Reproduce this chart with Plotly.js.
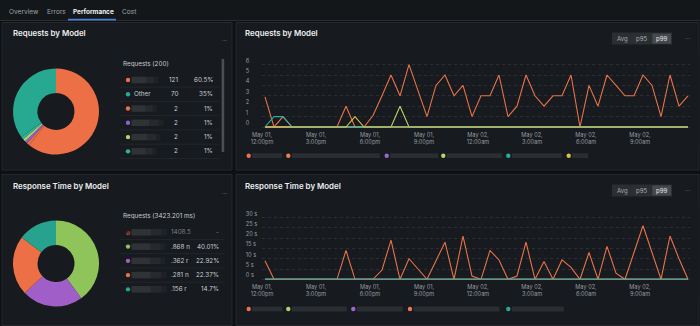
<!DOCTYPE html>
<html>
<head>
<meta charset="utf-8">
<script src="https://cdn.plot.ly/plotly-3.0.1.min.js"></script>
<style>
  html, body { margin: 0; padding: 0; background: #0e1013; }
  #chart { width: 700px; height: 326px; }
</style>
</head>
<body>
<div id="chart"></div>
<script>
// ---------------- DATA ----------------
const tabs = ['Overview', 'Errors', 'Performance', 'Cost'];
const activeTab = 'Performance';

const reqTitle = 'Requests by Model';
const reqTableHeader = 'Requests (200)';
const reqTotal = 200;
const reqModelNames = [null, 'Other', null, null, null, null];   // null = blurred name
const reqCounts = [121, 70, 2, 2, 2, 2];
const reqColors = ['#ec6f45', '#27a891', '#ec6f45', '#8f5fc8', '#b6d36b', '#2fb59f'];

const rtTitle = 'Response Time by Model';
const rtTableHeader = 'Requests (3423.201 ms)';
const rtExcludedShown = '1408.5';
const rtExcludedPct = '-';
const rtShown = ['.868 n', '.362 r', '.281 n', '.156 r'];
const rtPct = [40.01, 22.92, 22.37, 14.7];
const rtColors = ['#8fc45b', '#a05fc8', '#ec6f45', '#27a28e'];

const toggles = ['Avg', 'p95', 'p99'];
const activeToggle = 'p99';

const times = [
  '2024-05-01 12:10','2024-05-01 12:40','2024-05-01 13:10','2024-05-01 13:40','2024-05-01 14:10','2024-05-01 14:40',
  '2024-05-01 15:10','2024-05-01 15:40','2024-05-01 16:10','2024-05-01 16:40','2024-05-01 17:10','2024-05-01 17:40',
  '2024-05-01 18:10','2024-05-01 18:40','2024-05-01 19:10','2024-05-01 19:40','2024-05-01 20:10','2024-05-01 20:40',
  '2024-05-01 21:10','2024-05-01 21:40','2024-05-01 22:10','2024-05-01 22:40','2024-05-01 23:10','2024-05-01 23:40',
  '2024-05-02 00:10','2024-05-02 00:40','2024-05-02 01:10','2024-05-02 01:40','2024-05-02 02:10','2024-05-02 02:40',
  '2024-05-02 03:10','2024-05-02 03:40','2024-05-02 04:10','2024-05-02 04:40','2024-05-02 05:10','2024-05-02 05:40',
  '2024-05-02 06:10','2024-05-02 06:40','2024-05-02 07:10','2024-05-02 07:40','2024-05-02 08:10','2024-05-02 08:40',
  '2024-05-02 09:10','2024-05-02 09:40','2024-05-02 10:10','2024-05-02 10:40','2024-05-02 11:10','2024-05-02 11:40'
];
const xRange = ['2024-05-01 12:00', '2024-05-02 12:00'];
const xTickVals = ['2024-05-01 12:00','2024-05-01 15:00','2024-05-01 18:00','2024-05-01 21:00',
                   '2024-05-02 00:00','2024-05-02 03:00','2024-05-02 06:00','2024-05-02 09:00','2024-05-02 12:00'];
const xTickText = ['May 01,<br>12:00pm','May 01,<br>3:00pm','May 01,<br>6:00pm','May 01,<br>9:00pm',
                   'May 02,<br>12:00am','May 02,<br>3:00am','May 02,<br>6:00am','May 02,<br>9:00am','May 02,<br>12:00pm'];
const reqYTicks = [0, 1, 2, 3, 4, 5, 6];
const rtYTicks = [0, 5, 10, 15, 20, 25, 30];

// Requests by Model (p99) series
const reqS1 = [2.9,0,0,0,0,0,0,0,0,2,0,0,1.1,3,5,3,6,3.5,1,4,5,3,4,1,3,3,5,1,2,5,3,2,3,3,5,0,4,2,5,4,3,3,5,4,1,5,2,3];
const reqS2 = [0,0,1,0,0,0,0,0,0,0,0,0,0,0,0,0,0,0,0,0,0,0,0,0,0,0,0,0,0,0,0,0,0,0,0,0,0,0,0,0,0,0,0,0,0,0,0,0];
const reqS3 = [0,0,0,0,0,0,0,0,0,0,0,0,0,0,0,0,0,0,0,0,0,0,0,0,0,0,0,0,0,0,0,0,0,0,0,0,0,0,0,0,0,0,0,0,0,0,0,0];
const reqS4 = [0,0,0,0,0,0,0,0,0,0,0,0,0,0,0,2,0,0,0,0,0,0,0,0,0,0,0,0,0,0,0,0,0,0,0,0,0,0,0,0,0,0,0,0,0,0,0,0];
const reqS5 = [0,1,1,0,0,0,0,0,0,0,0,0,0,0,0,0,0,0,0,0,0,0,0,0,0,0,0,0,0,0,0,0,0,0,0,0,0,0,0,0,0,0,0,0,0,0,0,0];
const reqS6 = [0,0,0,0,0,0,0,0,0,0,1,0,0,0,0,0,0,0,0,0,0,0,0,0,0,0,0,0,0,0,0,0,0,0,0,0,0,0,0,0,0,0,0,0,0,0,0,0];
const reqSeries = [reqS1, reqS2, reqS3, reqS4, reqS5, reqS6];
const reqLineColors = ['#e8734a', '#ee7d52', '#9a66cf', '#b8d56e', '#2aae9c', '#d8c04a'];

// Response Time by Model (p99) series, seconds
const rtS1 = [9,0,0,0,0,0,0,0,0,14,0,0,0,4.5,19,0,10,5,0,9,18,0,21,1.6,0,14,9.4,0,1.6,18,0,8.6,0,9.4,5.8,0,13,0,16,3,0,13,26,13,0,21,10,0];
const rtS2 = [0,0,0,0,0,0,0,0,0,0,0,0,0,0,0,0,0,0,0,0,0,0,0,0,0,0,0,0,0,0,0,0,0,0,0,0,0,0,0,0,0,0,0,0,0,0,0,0];
const rtS3 = [0,0,0,0,0,0,0,0,0,0,0,0,0,0,0,0,0,0,0,0,0,0,0,0,0,0,0,0,0,0,0,0,0,0,0,0,0,0,0,0,0,0,0,0,0,0,0,0];
const rtS4 = [0,0,0,0,0,0,0,0,0,0,0,0,0,0,0,0,0,0,0,0,0,0,0,0,0,0,0,0,0,0,0,0,0,0,0,0,0,0,0,0,0,0,0,0,0,0,0,0];
const rtS5 = [0,0,0,0,0,0,0,0,0,0,0,0,0,0,0,0,0,0,0,0,0,0,0,0,0,0,0,0,0,0,0,0,0,0,0,0,0,0,0,0,0,0,0,0,0,0,0,0];
const rtSeries = [rtS1, rtS2, rtS3, rtS4, rtS5];
const rtLineColors = ['#e8734a', '#a9d36a', '#a066cc', '#ec7a50', '#2aa896'];

// ---------------- STYLE / LAYOUT HELPERS ----------------
const W = 700, H = 326;
const X = p => p / W;
const Y = p => 1 - p / H;
const FONT = 'Inter, "Noto Sans", "DejaVu Sans", sans-serif';
const PAGE_BG = '#0e1013';
const PANEL_BG = '#171a1e';
const PANEL_LINE = '#25292d';

const shapes = [];
const ann = [];

function rect(x0, y0, x1, y1, fill, line, layer) {
  shapes.push({type: 'rect', xref: 'paper', yref: 'paper', x0: X(x0), x1: X(x1), y0: Y(y1), y1: Y(y0),
    fillcolor: fill, line: line ? {color: line, width: 1} : {width: 0}, layer: layer || 'below'});
}
function circle(cx, cy, r, fill) {
  shapes.push({type: 'circle', xref: 'paper', yref: 'paper', x0: X(cx - r), x1: X(cx + r), y0: Y(cy + r), y1: Y(cy - r),
    fillcolor: fill, line: {width: 0}, layer: 'below'});
}
function hline(x0, x1, y, color, width) {
  shapes.push({type: 'line', xref: 'paper', yref: 'paper', x0: X(x0), x1: X(x1), y0: Y(y), y1: Y(y),
    line: {color: color, width: width || 1}, layer: 'below'});
}
function txt(x, y, text, o) {
  o = o || {};
  const xa = o.xanchor || 'left';
  const dx = xa === 'left' ? -1.2 : (xa === 'right' ? 1.2 : 0);
  ann.push({xref: 'paper', yref: 'paper', x: X(x + dx), y: Y(y), text: text, showarrow: false,
    xanchor: xa, yanchor: 'middle',
    font: {family: FONT, size: o.size || 6.2, color: o.color || '#c9cdd1', weight: o.weight || 400}});
}
function blurBar(x0, x1, yc, h) {
  const w = x1 - x0;
  rect(x0, yc - h / 2, x0 + w * 0.55, yc + h / 2, 'rgba(255,255,255,0.11)');
  rect(x0 + w * 0.55, yc - h / 2, x0 + w * 0.85, yc + h / 2, 'rgba(255,255,255,0.07)');
  rect(x0 + w * 0.85, yc - h / 2, x1, yc + h / 2, 'rgba(255,255,255,0.035)');
}

// ---------------- PAGE CHROME ----------------
rect(0, 0, 700, 20.5, '#14171a');
hline(0, 700, 20.5, '#2a2d31', 1);
const tabX = [8, 46, 72, 121];
tabs.forEach((t, i) => {
  const act = t === activeTab;
  txt(tabX[i], 11.5, t, {size: act ? 6.4 : 6.6, color: act ? '#f0f2f4' : '#9ea3a8', weight: act ? 700 : 400});
});
shapes.push({type: 'line', xref: 'paper', yref: 'paper', x0: X(68), x1: X(116), y0: Y(19.6), y1: Y(19.6),
  line: {color: '#4a7fd6', width: 1.6}, layer: 'above'});

// panels
rect(2, 22.5, 232, 170, PANEL_BG, PANEL_LINE);
rect(236, 22.5, 699, 170, PANEL_BG, PANEL_LINE);
rect(2, 174.5, 232, 325.5, PANEL_BG, PANEL_LINE);
rect(236, 174.5, 699, 325.5, PANEL_BG, PANEL_LINE);

// titles and menus
const TITLE = {size: 7.9, color: '#eceef0', weight: 600};
txt(12.5, 33.3, reqTitle, TITLE);
txt(12.5, 186, rtTitle, TITLE);
txt(244.5, 33.3, reqTitle, TITLE);
txt(244.5, 186, rtTitle, TITLE);
[[224, 40.5], [687, 38.3], [224, 193], [687, 191]].forEach(p => txt(p[0], p[1], '···', {size: 6, color: '#8e9399', xanchor: 'center'}));

// toggles
function toggleGroup(yc) {
  rect(612, yc - 6, 672, yc + 6, '#2b2f33');
  const cx = [622.7, 641.7, 661.7];
  toggles.forEach((t, i) => {
    const act = t === activeToggle;
    if (act) rect(cx[i] - 9.3, yc - 5, cx[i] + 9.3, yc + 5, '#464a4f');
    txt(cx[i], yc, t, {size: 6, color: act ? '#e6e8ea' : '#a7acb1', xanchor: 'center'});
  });
}
toggleGroup(38.6);
toggleGroup(190.5);

// ---------------- REQUESTS TABLE ----------------
txt(122, 64, reqTableHeader, {size: 6.3, color: '#c9cdd1'});
const reqBlurW = [27, 0, 25, 32, 29, 25];
reqCounts.forEach((c, i) => {
  const yc = 80 + i * 14.27;
  circle(128, yc, 2.2, reqColors[i]);
  if (reqModelNames[i]) txt(133, yc, reqModelNames[i], {size: 6.3});
  else blurBar(131.5, 131.5 + reqBlurW[i], yc, 6.5);
  txt(178.3, yc, String(c), {size: 6.3, xanchor: 'right'});
  txt(213.5, yc, (c / reqTotal * 100).toFixed(1).replace(/\.0$/, '') + '%', {size: 6.3, xanchor: 'right'});
  hline(120, 219, yc + 7.1, '#262a2e', 0.8);
});
rect(221.6, 59, 224.2, 152, '#4b4f54');

// ---------------- RESPONSE TIME TABLE ----------------
txt(122, 215.7, rtTableHeader, {size: 6.3, color: '#c9cdd1'});
txt(128, 232.3, '⌀', {size: 7, color: '#d9533f', xanchor: 'center'});
blurBar(131.5, 167, 232.3, 6.5);
txt(170, 232.3, rtExcludedShown, {size: 6.3, color: '#7c8186'});
txt(219.5, 232.3, rtExcludedPct, {size: 6.3, color: '#7c8186', xanchor: 'right'});
hline(120, 225, 239.4, '#262a2e', 0.8);
const rtBlurW = [34, 34, 35, 35];
rtShown.forEach((s, i) => {
  const yc = 246.6 + i * 14.25;
  circle(128, yc, 2.2, rtColors[i]);
  blurBar(131.5, 131.5 + rtBlurW[i], yc, 6.5);
  txt(170, yc, s, {size: 6.3});
  txt(219.5, yc, rtPct[i] + '%', {size: 6.3, xanchor: 'right'});
  if (i < rtShown.length - 1) hline(120, 225, yc + 7.1, '#262a2e', 0.8);
});

// ---------------- LINE CHART LEGENDS ----------------
const reqLegDotX = [248.7, 288.3, 386.7, 443.3, 508.3, 568.7];
const reqLegBarW = [30, 88, 48, 55, 50, 16];
reqLineColors.forEach((c, i) => {
  circle(reqLegDotX[i], 155.7, 2.2, c);
  rect(reqLegDotX[i] + 3.5, 153.3, reqLegDotX[i] + 3.5 + reqLegBarW[i], 158.1, '#2a2e32');
});
const rtLegDotX = [248.7, 288.3, 353.3, 410, 508.3];
const rtLegBarW = [30, 55, 46, 86, 52];
rtLineColors.forEach((c, i) => {
  circle(rtLegDotX[i], 309, 2.2, c);
  rect(rtLegDotX[i] + 3.5, 306.6, rtLegDotX[i] + 3.5 + rtLegBarW[i], 311.4, '#2a2e32');
});

// cover clipped area at the right edge of line charts
rect(690, 50, 698.5, 150, PANEL_BG, null, 'above');
rect(690, 202, 698.5, 302, PANEL_BG, null, 'above');

// ---------------- TRACES ----------------
const traces = [];
// pies: "Other" slice placed last
const pieIdx = reqModelNames.map((n, i) => i).filter(i => reqModelNames[i] !== 'Other')
  .concat(reqModelNames.map((n, i) => i).filter(i => reqModelNames[i] === 'Other'));
traces.push({
  type: 'pie', values: pieIdx.map(i => reqCounts[i]), labels: pieIdx.map(i => 'r' + i),
  marker: {colors: pieIdx.map(i => reqColors[i]), line: {width: 0}},
  hole: 0.43, sort: false, direction: 'clockwise', rotation: 0, textinfo: 'none',
  hoverinfo: 'skip', showlegend: false,
  domain: {x: [X(13), X(99)], y: [Y(154.5), Y(68.5)]}
});
traces.push({
  type: 'pie', values: rtPct, labels: rtPct.map((v, i) => 't' + i),
  marker: {colors: rtColors, line: {width: 0}},
  hole: 0.43, sort: false, direction: 'clockwise', rotation: 0, textinfo: 'none',
  hoverinfo: 'skip', showlegend: false,
  domain: {x: [X(13), X(99)], y: [Y(306.5), Y(220.5)]}
});
reqSeries.forEach((s, k) => traces.push({
  type: 'scatter', mode: 'lines', x: times, y: s, xaxis: 'x', yaxis: 'y',
  line: {color: reqLineColors[k], width: 1.1}, hoverinfo: 'skip', showlegend: false
}));
rtSeries.forEach((s, k) => traces.push({
  type: 'scatter', mode: 'lines', x: times, y: s, xaxis: 'x2', yaxis: 'y2',
  line: {color: rtLineColors[k], width: 1.1}, hoverinfo: 'skip', showlegend: false
}));

const tickFont = {family: FONT, size: 5.6, color: '#979ca2'};
const xCommon = {
  type: 'date', range: xRange, tickvals: xTickVals, ticktext: xTickText,
  showgrid: false, zeroline: false, showline: false, ticks: '', tickfont: tickFont, fixedrange: true
};
const yCommon = {
  anchor: 'free', position: X(241.8), ticklabelposition: 'inside top', showgrid: true,
  gridcolor: '#2b2f34', griddash: 'dot', gridwidth: 1, zeroline: false, showline: false, ticks: '',
  tickfont: tickFont, fixedrange: true, tickmode: 'array'
};

// y domains: 0 -> 127px, 10.4 px/unit (top); 0 -> 279.3px, 2.06 px/s (bottom)
const layout = {
  width: W, height: H, margin: {l: 0, r: 0, t: 0, b: 0},
  paper_bgcolor: PAGE_BG, plot_bgcolor: 'rgba(0,0,0,0)',
  font: {family: FONT}, showlegend: false, hovermode: false,
  xaxis: Object.assign({}, xCommon, {domain: [X(262), X(694)], anchor: 'y'}),
  yaxis: Object.assign({}, yCommon, {domain: [Y(130), Y(52)], range: [(127 - 130) / 10.4, (127 - 52) / 10.4],
    tickvals: reqYTicks, ticktext: reqYTicks.map(String)}),
  xaxis2: Object.assign({}, xCommon, {domain: [X(262), X(694)], anchor: 'y2'}),
  yaxis2: Object.assign({}, yCommon, {domain: [Y(282), Y(203)], range: [(279.3 - 282) / 2.06, (279.3 - 203) / 2.06],
    tickvals: rtYTicks, ticktext: rtYTicks.map(v => v + ' s')}),
  shapes: shapes, annotations: ann
};

Plotly.newPlot('chart', traces, layout, {staticPlot: true, displayModeBar: false});
</script>
</body>
</html>
